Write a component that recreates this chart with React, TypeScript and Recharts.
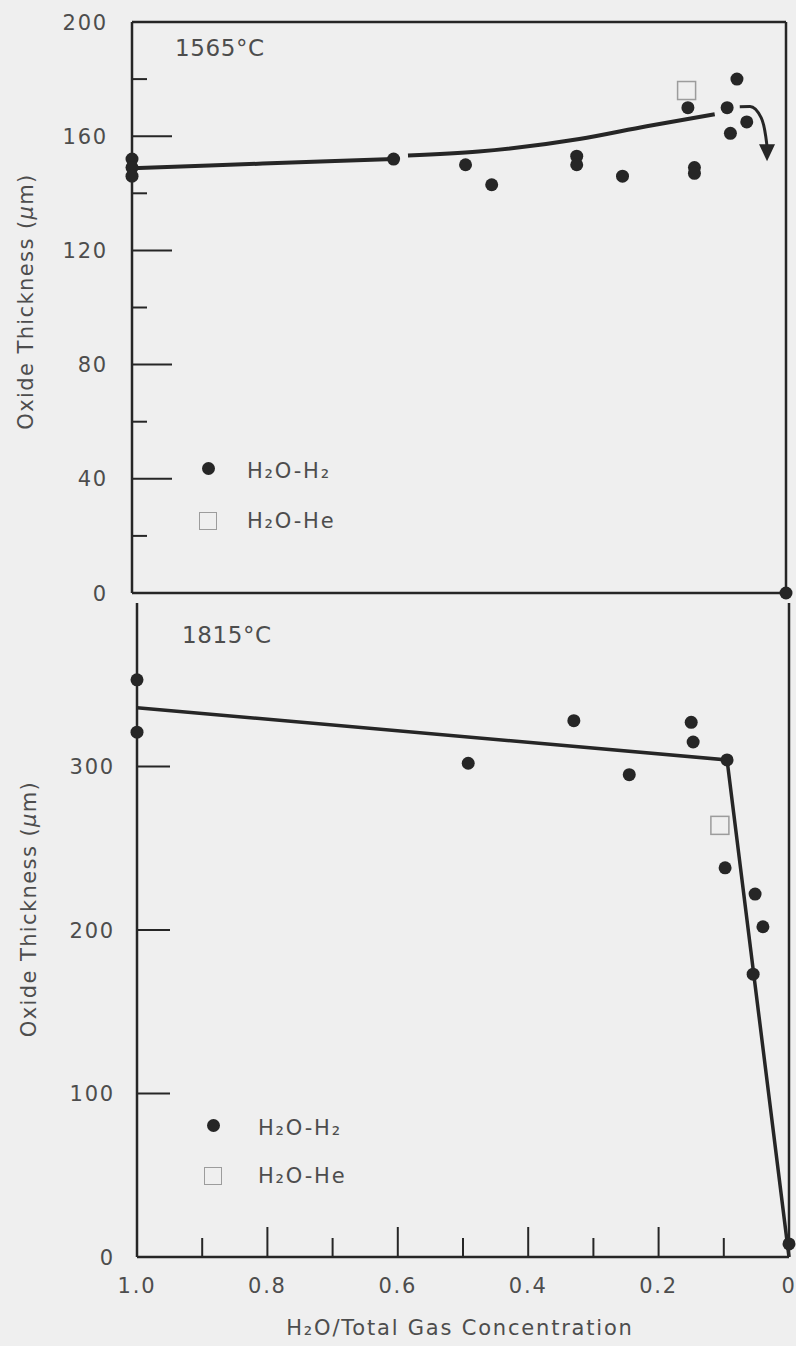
import { ComposedChart, Line, Scatter, XAxis, YAxis, ReferenceLine, Legend } from 'recharts';

const INK = '#262626';
const TEXT = '#4d4d4d';
const FONT = '"DejaVu Sans", "Liberation Sans", sans-serif';
const FS = 21;
const LS = 1.8;

// ---- 1565 °C panel ----
const topH2X = [1.0, 1.0, 1.0, 0.6, 0.49, 0.45, 0.32, 0.32, 0.25, 0.14, 0.14, 0.15, 0.09, 0.075, 0.06, 0.085, 0];
const topH2Y = [152, 149, 146, 152, 150, 143, 153, 150, 146, 149, 147, 170, 170, 180, 165, 161, 0];
const topHeX = [0.152];
const topHeY = [176];
// hand-drawn fit, broken around the 0.6 point
const topFitAX = [1.0, 0.8, 0.6];
const topFitAY = [148.8, 150.4, 152];
const topFitBX = [0.578, 0.47, 0.316, 0.213, 0.109];
const topFitBY = [153.2, 154.6, 159, 163.5, 167.7];
// curved arrow at the low-concentration end
const topArrowX = [0.0707, 0.055, 0.038, 0.031, 0.029];
const topArrowY = [170.3, 170.4, 166.5, 160, 156.5];
const topYTicks = [0, 20, 40, 60, 80, 100, 120, 140, 160, 180, 200];
const topYLabels = [0, 40, 80, 120, 160, 200];

// ---- 1815 °C panel ----
const botH2X = [1.0, 1.0, 0.492, 0.33, 0.245, 0.15, 0.147, 0.095, 0.098, 0.052, 0.04, 0.055, 0];
const botH2Y = [353, 321, 302, 328, 295, 327, 315, 304, 238, 222, 202, 173, 8];
const botHeX = [0.106];
const botHeY = [264];
const botFitX = [1.0, 0.095, 0];
const botFitY = [336, 304, 0];
const botYTicks = [0, 100, 200, 300];
const botYLabels = [0, 100, 200, 300];

const xTicks = [1.0, 0.9, 0.8, 0.7, 0.6, 0.5, 0.4, 0.3, 0.2, 0.1, 0];
const xMajor = [1.0, 0.8, 0.6, 0.4, 0.2, 0];
const xMajorLabels = ['1.0', '0.8', '0.6', '0.4', '0.2', '0'];

const legendItems = [
    { name: 'H₂O-H₂', kind: 'dot' },
    { name: 'H₂O-He', kind: 'box' },
];

const zip = (xs: number[], ys: number[]) => xs.map((x, i) => ({ x, y: ys[i] }));

const txt = { fill: TEXT, fontSize: FS, fontFamily: FONT, letterSpacing: LS };

const YTick = (props: any) => {
    const { x, y, payload, labels, major, minor, max, gap } = props;
    const v = payload.value;
    const isMajor = labels.includes(v);
    const len = isMajor ? major : minor;
    return (
        <g>
            {v > 0 && v < max && (
                <line x1={x} y1={y} x2={x + len} y2={y} stroke={INK} strokeWidth={2} />
            )}
            {isMajor && (
                <text x={x - gap} y={y} dy="0.36em" textAnchor="end" {...txt}>
                    {v}
                </text>
            )}
        </g>
    );
};

const XTick = (props: any) => {
    const { x, y, payload } = props;
    const v = payload.value;
    const idx = xMajor.findIndex((m) => Math.abs(m - v) < 1e-6);
    const len = idx >= 0 ? 30 : 19;
    return (
        <g>
            {v > 0 && v < 1 && <line x1={x} y1={y} x2={x} y2={y - len} stroke={INK} strokeWidth={2} />}
            {idx >= 0 && (
                <text x={x} y={y + 28} dy="0.36em" textAnchor="middle" {...txt}>
                    {xMajorLabels[idx]}
                </text>
            )}
        </g>
    );
};

const yTitle = (cx: number, shift: number) => (props: any) => {
    const vb = props.viewBox || {};
    const cy = vb.y + vb.height / 2 + shift;
    return (
        <text
            transform={`translate(${cx},${cy}) rotate(-90)`}
            dy="0.36em"
            textAnchor="middle"
            {...txt}
            letterSpacing={1.4}
        >
            <tspan>Oxide Thickness (</tspan>
            <tspan fontStyle="italic">μ</tspan>
            <tspan>m)</tspan>
        </text>
    );
};

const xTitle = (props: any) => {
    const vb = props.viewBox || {};
    return (
        <text x={vb.x + vb.width / 2 - 3} y={vb.y + 70} dy="0.36em" textAnchor="middle" {...txt}>
            H₂O/Total Gas Concentration
        </text>
    );
};

const DotShape = (p: any) => <circle cx={p.cx} cy={p.cy} r={6.5} fill={INK} />;
const BoxShape = (p: any) => (
    <rect x={p.cx - 9} y={p.cy - 9} width={18} height={18} fill="none" stroke="#9c9c9c" strokeWidth={1.5} />
);

const ArrowHead = (p: any) => {
    if (p.index !== topArrowX.length - 1) return <g key={p.key ?? p.index} />;
    return (
        <polygon
            key={p.key ?? p.index}
            points={`${p.cx - 8},${p.cy - 2} ${p.cx + 8},${p.cy - 2} ${p.cx},${p.cy + 15}`}
            fill={INK}
        />
    );
};

const makeLegend = (gap: number, rowH: number) => () => (
    <div style={{ fontFamily: FONT, fontSize: FS, letterSpacing: LS, color: TEXT }}>
        {legendItems.map((it) => (
            <div key={it.name} style={{ display: 'flex', alignItems: 'center', height: rowH }}>
                <div style={{ width: 20, display: 'flex', justifyContent: 'center' }}>
                    {it.kind === 'dot' ? (
                        <div
                            style={{ width: 13, height: 13, borderRadius: '50%', background: INK, marginTop: -6 }}
                        />
                    ) : (
                        <div style={{ width: 16, height: 16, border: '1.5px solid #9c9c9c' }} />
                    )}
                </div>
                <span style={{ marginLeft: gap, whiteSpace: 'nowrap' }}>{it.name}</span>
            </div>
        ))}
    </div>
);

const Title = ({ text, left, top }: { text: string; left: number; top: number }) => (
    <div
        style={{
            position: 'absolute',
            left,
            top,
            lineHeight: '24px',
            fontSize: 23,
            letterSpacing: 0.6,
            fontFamily: FONT,
            color: TEXT,
        }}
    >
        {text}
    </div>
);

const border = { stroke: INK, strokeWidth: 2.5 };

export default function App() {
    return (
        <div
            style={{
                position: 'absolute',
                left: 0,
                top: 0,
                width: 796,
                height: 1346,
                background: '#efefef',
                overflow: 'hidden',
            }}
        >
            <div style={{ position: 'absolute', left: 0, top: 600 }}>
                <ComposedChart width={796} height={746} margin={{ top: 3, right: 7, bottom: 0, left: 0 }}>
                    <XAxis
                        type="number"
                        dataKey="x"
                        domain={[0, 1]}
                        reversed
                        ticks={xTicks}
                        interval={0}
                        height={89}
                        axisLine={false}
                        tickLine={false}
                        tickSize={0}
                        tickMargin={0}
                        tick={<XTick />}
                        label={{ content: xTitle }}
                    />
                    <YAxis
                        type="number"
                        dataKey="y"
                        domain={[0, 400]}
                        ticks={botYTicks}
                        interval={0}
                        width={137}
                        axisLine={false}
                        tickLine={false}
                        tickSize={0}
                        tickMargin={0}
                        tick={<YTick labels={botYLabels} major={33} minor={0} max={400} gap={22} />}
                        label={{ content: yTitle(28, -21) }}
                    />
                    <ReferenceLine y={0} {...border} />
                    <ReferenceLine x={1} {...border} />
                    <ReferenceLine x={0} {...border} />
                    <Line
                        data={zip(botFitX, botFitY)}
                        dataKey="y"
                        type="linear"
                        stroke={INK}
                        strokeWidth={3.5}
                        dot={false}
                        activeDot={false}
                        isAnimationActive={false}
                    />
                    <Scatter data={zip(botHeX, botHeY)} dataKey="y" shape={BoxShape} isAnimationActive={false} />
                    <Scatter data={zip(botH2X, botH2Y)} dataKey="y" shape={DotShape} isAnimationActive={false} />
                    <Legend
                        layout="vertical"
                        align="center"
                        verticalAlign="middle"
                        content={makeLegend(35, 48)}
                        wrapperStyle={{ left: 203, top: 504, width: 'auto', height: 'auto' }}
                    />
                </ComposedChart>
            </div>

            <div style={{ position: 'absolute', left: 0, top: 0 }}>
                <ComposedChart width={796} height={612} margin={{ top: 22, right: 10, bottom: 19, left: 0 }}>
                    <XAxis type="number" dataKey="x" domain={[0, 1]} reversed hide />
                    <YAxis
                        type="number"
                        dataKey="y"
                        domain={[0, 200]}
                        ticks={topYTicks}
                        interval={0}
                        width={132}
                        axisLine={false}
                        tickLine={false}
                        tickSize={0}
                        tickMargin={0}
                        tick={<YTick labels={topYLabels} major={40} minor={15} max={200} gap={24} />}
                        label={{ content: yTitle(25, -6) }}
                    />
                    <ReferenceLine y={200} {...border} />
                    <ReferenceLine y={0} {...border} />
                    <ReferenceLine x={1} {...border} />
                    <ReferenceLine x={0} {...border} />
                    <Line
                        data={zip(topFitAX, topFitAY)}
                        dataKey="y"
                        type="monotone"
                        stroke={INK}
                        strokeWidth={4}
                        dot={false}
                        activeDot={false}
                        isAnimationActive={false}
                    />
                    <Line
                        data={zip(topFitBX, topFitBY)}
                        dataKey="y"
                        type="monotone"
                        stroke={INK}
                        strokeWidth={4}
                        dot={false}
                        activeDot={false}
                        isAnimationActive={false}
                    />
                    <Line
                        data={zip(topArrowX, topArrowY)}
                        dataKey="y"
                        type="monotone"
                        stroke={INK}
                        strokeWidth={3}
                        dot={ArrowHead}
                        activeDot={false}
                        isAnimationActive={false}
                    />
                    <Scatter data={zip(topHeX, topHeY)} dataKey="y" shape={BoxShape} isAnimationActive={false} />
                    <Scatter data={zip(topH2X, topH2Y)} dataKey="y" shape={DotShape} isAnimationActive={false} />
                    <Legend
                        layout="vertical"
                        align="center"
                        verticalAlign="middle"
                        content={makeLegend(29, 50)}
                        wrapperStyle={{ left: 198, top: 446, width: 'auto', height: 'auto' }}
                    />
                </ComposedChart>
            </div>

            <Title text="1565°C" left={175} top={36} />
            <Title text="1815°C" left={182} top={623} />
        </div>
    );
}
